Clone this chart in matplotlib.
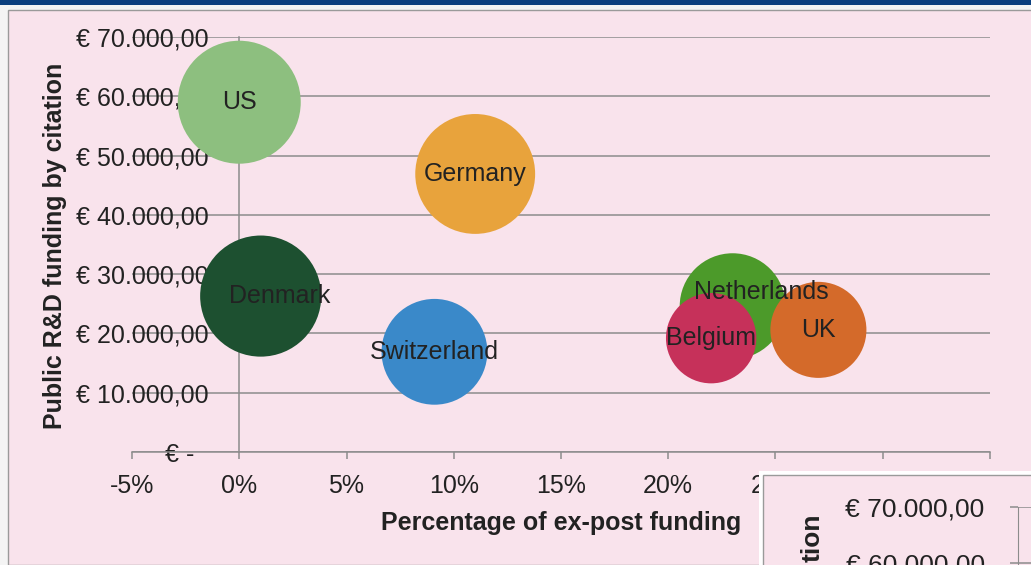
import matplotlib
matplotlib.use('Agg')
import matplotlib.pyplot as plt
from matplotlib.patches import Rectangle
from matplotlib.ticker import FuncFormatter

plt.rcParams['font.family'] = ['Liberation Sans', 'DejaVu Sans']

# data
countries = ['US', 'Germany', 'Denmark', 'Switzerland', 'Netherlands', 'Belgium', 'UK']
ex_post_share = [0.000, 0.110, 0.010, 0.091, 0.230, 0.220, 0.270]
funding_per_citation = [59000, 46900, 26300, 16900, 24600, 19200, 20600]
bubble_size = [100, 95, 97, 74, 74, 54, 61]
colors = ['#8dbf7f', '#e8a33c', '#1d5030', '#3a89c9', '#4c9a2a', '#c6315a', '#d46a2a']

x_ticks = [-0.05, 0.0, 0.05, 0.10, 0.15, 0.20, 0.25, 0.30, 0.35]
y_ticks = [0, 10000, 20000, 30000, 40000, 50000, 60000, 70000]

# label nudges in points (x, y)
label_offsets = {'Denmark': (14, 0), 'Netherlands': (21, 10)}

PINK = '#f9e3ec'
GRID = '#8c8c8c'
TEXT = '#222222'
W, H = 1031, 565


def euro(v, pos=None):
    if v == 0:
        return '€ -  '
    s = f'{v:,.2f}'.replace(',', ' ').replace('.', ',').replace(' ', '.')
    return '€ ' + s


def pct(v, pos=None):
    return f'{v * 100:.0f}%'


fig = plt.figure(figsize=(W / 100, H / 100), dpi=100)
fig.patch.set_facecolor('#f4f4f4')

# screenshot frame: blue strip on top, pink chart panel
fig.patches.append(Rectangle((8 / W, 0), 1, 555 / H, transform=fig.transFigure,
                             facecolor=PINK, edgecolor='#9a9a9a', lw=1, zorder=-2))
fig.patches.append(Rectangle((0, 1 - 5 / H), 1, 5 / H, transform=fig.transFigure,
                             facecolor='#0b3f7e', edgecolor='none', zorder=-1))

ax = fig.add_axes([132 / W, 1 - 452 / H, (990 - 132) / W, (452 - 37) / H])
ax.set_facecolor('none')

ax.scatter(ex_post_share, funding_per_citation, s=[b * 78.4 for b in bubble_size],
           c=colors, edgecolors='none', zorder=3)

for name, x, y in zip(countries, ex_post_share, funding_per_citation):
    dx, dy = label_offsets.get(name, (0, 0))
    ax.annotate(name, (x, y), xytext=(dx, dy), textcoords='offset points',
                ha='center', va='center', fontsize=18, color=TEXT, zorder=4)

ax.set_xticks(x_ticks)
ax.set_yticks(y_ticks)
ax.set_xlim(-0.05, 0.35)
ax.set_ylim(0, 70000)
ax.xaxis.set_major_formatter(FuncFormatter(pct))
ax.yaxis.set_major_formatter(FuncFormatter(euro))

ax.grid(axis='y', color=GRID, lw=1.1, zorder=1)
ax.set_axisbelow(True)
for side in ('top', 'right'):
    ax.spines[side].set_visible(False)
ax.spines['left'].set_position(('data', 0))
ax.spines['left'].set_color(GRID)
ax.spines['left'].set_linewidth(1.1)
ax.spines['bottom'].set_color(GRID)
ax.spines['bottom'].set_linewidth(1.1)

ax.tick_params(axis='x', length=5, width=1.1, color=GRID, pad=11,
               labelsize=18, labelcolor=TEXT)
ax.tick_params(axis='y', length=0, pad=22, labelsize=18, labelcolor=TEXT)

ax.set_xlabel('Percentage of ex-post funding', fontsize=18, fontweight='bold',
              color=TEXT, labelpad=9)
ax.set_ylabel('Public R&D funding by citation', fontsize=18, fontweight='bold',
              color=TEXT)
ax.yaxis.set_label_coords(67 / W, 1 - 246 / H, transform=fig.transFigure)

# overlapping copy of the chart in the lower right corner of the screenshot
fig.patches.append(Rectangle((759 / W, 0), 1, 94 / H, transform=fig.transFigure,
                             facecolor='white', edgecolor='none', zorder=1))
fig.patches.append(Rectangle((763 / W, -0.01), 1, 90 / H + 0.01, transform=fig.transFigure,
                             facecolor=PINK, edgecolor='#9a9a9a', lw=1, zorder=1))

ax2 = fig.add_axes([1018 / W, 0, 13 / W, 58 / H])
ax2.set_zorder(2)
ax2.set_facecolor('none')
ax2.set_yticks(y_ticks)
ax2.set_xticks([])
ax2.set_ylim(70000 - 10357, 70000)
ax2.set_xlim(0, 1)
ax2.yaxis.set_major_formatter(FuncFormatter(euro))
ax2.grid(axis='y', color=GRID, lw=1.1)
for side in ('top', 'right', 'bottom'):
    ax2.spines[side].set_visible(False)
ax2.spines['left'].set_color(GRID)
ax2.tick_params(axis='y', length=6, width=1.1, color=GRID, pad=18,
                labelsize=19, labelcolor=TEXT)
fig.text(813 / W, 1 - 538 / H, 'tion', rotation=90, ha='center', va='center',
         fontsize=19, fontweight='bold', color=TEXT, zorder=3)

fig.savefig('out.png', dpi=100)
